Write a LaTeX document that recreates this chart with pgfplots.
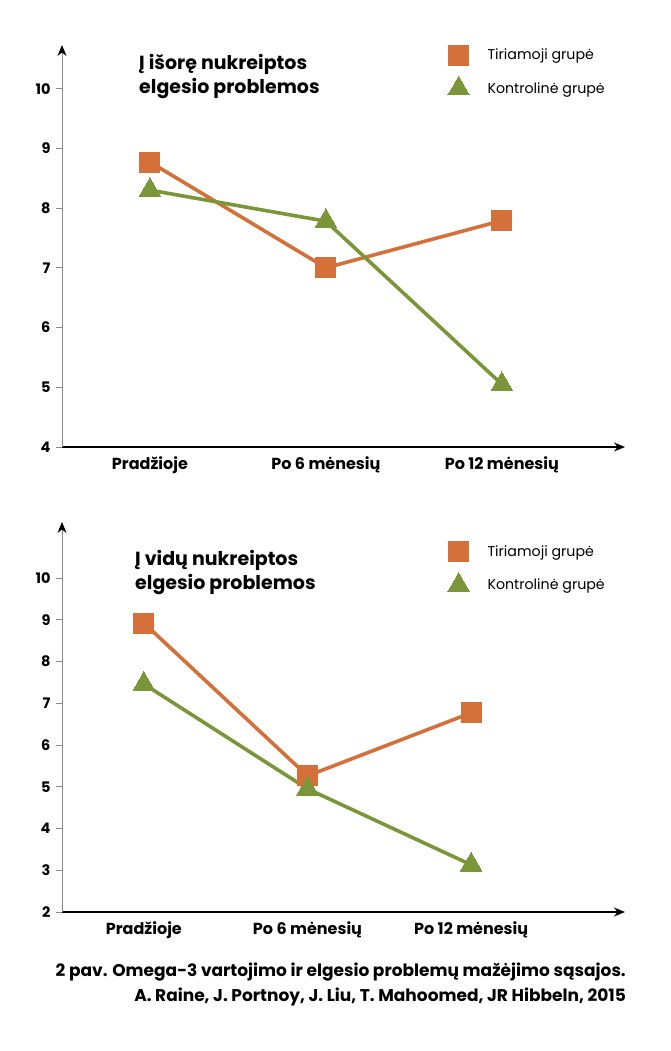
\documentclass[border=0pt]{standalone}
\usepackage{fontspec}
\setmainfont{Poppins}
\usepackage{pgfplots}
\pgfplotsset{compat=1.18}
\usetikzlibrary{arrows.meta}
\definecolor{ora}{HTML}{D6703A}
\definecolor{grn}{HTML}{7A9638}
\definecolor{axgray}{HTML}{8A8A8A}
\pgfplotsset{
  mychart/.style={
    scale only axis,
    axis x line=bottom, axis y line=left,
    x axis line style={black, line width=1.1pt, -{Stealth[length=11pt,width=9pt]}},
    y axis line style={axgray, line width=0.9pt, -{Stealth[length=11pt,width=9pt,black]}},
    xtick={0,1,2},
    xticklabels={Pradžioje, Po 6 mėnesių, Po 12 mėnesių},
    x tick label style={font=\fontsize{16}{17}\selectfont\bfseries, yshift=0pt},
    major x tick style={draw=none},
    tick align=outside,
    major y tick style={axgray, line width=0.9pt},
    major tick length=6pt,
    y tick label style={font=\fontsize{14.5}{15}\selectfont\bfseries, xshift=-2pt},
    /pgf/number format/assume math mode=true,
    hide obscured y ticks=false,
    hide obscured x ticks=false,
    clip=false,
    legend style={draw=none, fill=none, inner sep=0pt, row sep=11pt, column sep=16pt,
      font=\fontsize{14.2}{15}\selectfont, legend cell align=left},
    legend image code/.code={\draw[#1, only marks] plot coordinates {(10pt,0pt)};},
  },
  orastyle/.style={ora, line width=3.6pt, mark=square*, mark size=10pt,
    mark options={solid, fill=ora, draw=ora, line width=0pt}},
  grnstyle/.style={grn, line width=3.6pt, mark=triangle*, mark size=12.5pt,
    mark options={solid, fill=grn, draw=grn, line width=0pt}},
}
\begin{document}
\begin{tikzpicture}
\useasboundingbox (0pt,0pt) rectangle (670pt,-1051pt);
% ---------- top chart ----------
\begin{axis}[mychart,
  at={(62pt,-447pt)}, anchor=south west,
  width=563pt, height=402pt,
  xmin=-0.5, xmax=2.7, ymin=4, ymax=10.73,
  ytick={4,5,6,7,8,9,10},
  legend style={at={(rel axis cs:0.685,1.0)}, anchor=north west},
]
\addplot[orastyle] coordinates {(0,8.77) (1,7.0) (2,7.79)};
\addlegendentry{Tiriamoji grupė}
\addplot[grnstyle] coordinates {(0,8.30) (1,7.78) (2,5.05)};
\addlegendentry{Kontrolinė grupė}
\end{axis}
\node[anchor=north west, align=left, inner sep=0pt, font=\fontsize{19}{24.5}\selectfont\bfseries] at (139pt,-54pt) {Į išorę nukreiptos\\elgesio problemos};
% ---------- bottom chart ----------
\begin{axis}[mychart,
  at={(62pt,-912pt)}, anchor=south west,
  width=563pt, height=390pt,
  xmin=-0.5, xmax=2.94, ymin=2, ymax=11.34,
  ytick={2,3,4,5,6,7,8,9,10},
  legend style={at={(rel axis cs:0.685,0.95)}, anchor=north west},
]
\addplot[orastyle] coordinates {(0,8.92) (1,5.26) (2,6.77)};
\addlegendentry{Tiriamoji grupė}
\addplot[grnstyle] coordinates {(0,7.46) (1,4.95) (2,3.13)};
\addlegendentry{Kontrolinė grupė}
\end{axis}
\node[anchor=north west, align=left, inner sep=0pt, font=\fontsize{19}{24.5}\selectfont\bfseries] at (135pt,-550pt) {Į vidų nukreiptos\\elgesio problemos};
% ---------- caption ----------
\node[anchor=north east, align=right, inner sep=0pt, font=\fontsize{17}{25}\selectfont\bfseries] at (626pt,-963pt) {2 pav. Omega-3 vartojimo ir elgesio problemų mažėjimo sąsajos.\\A. Raine, J. Portnoy, J. Liu, T. Mahoomed, JR Hibbeln, 2015};
\end{tikzpicture}
\end{document}
